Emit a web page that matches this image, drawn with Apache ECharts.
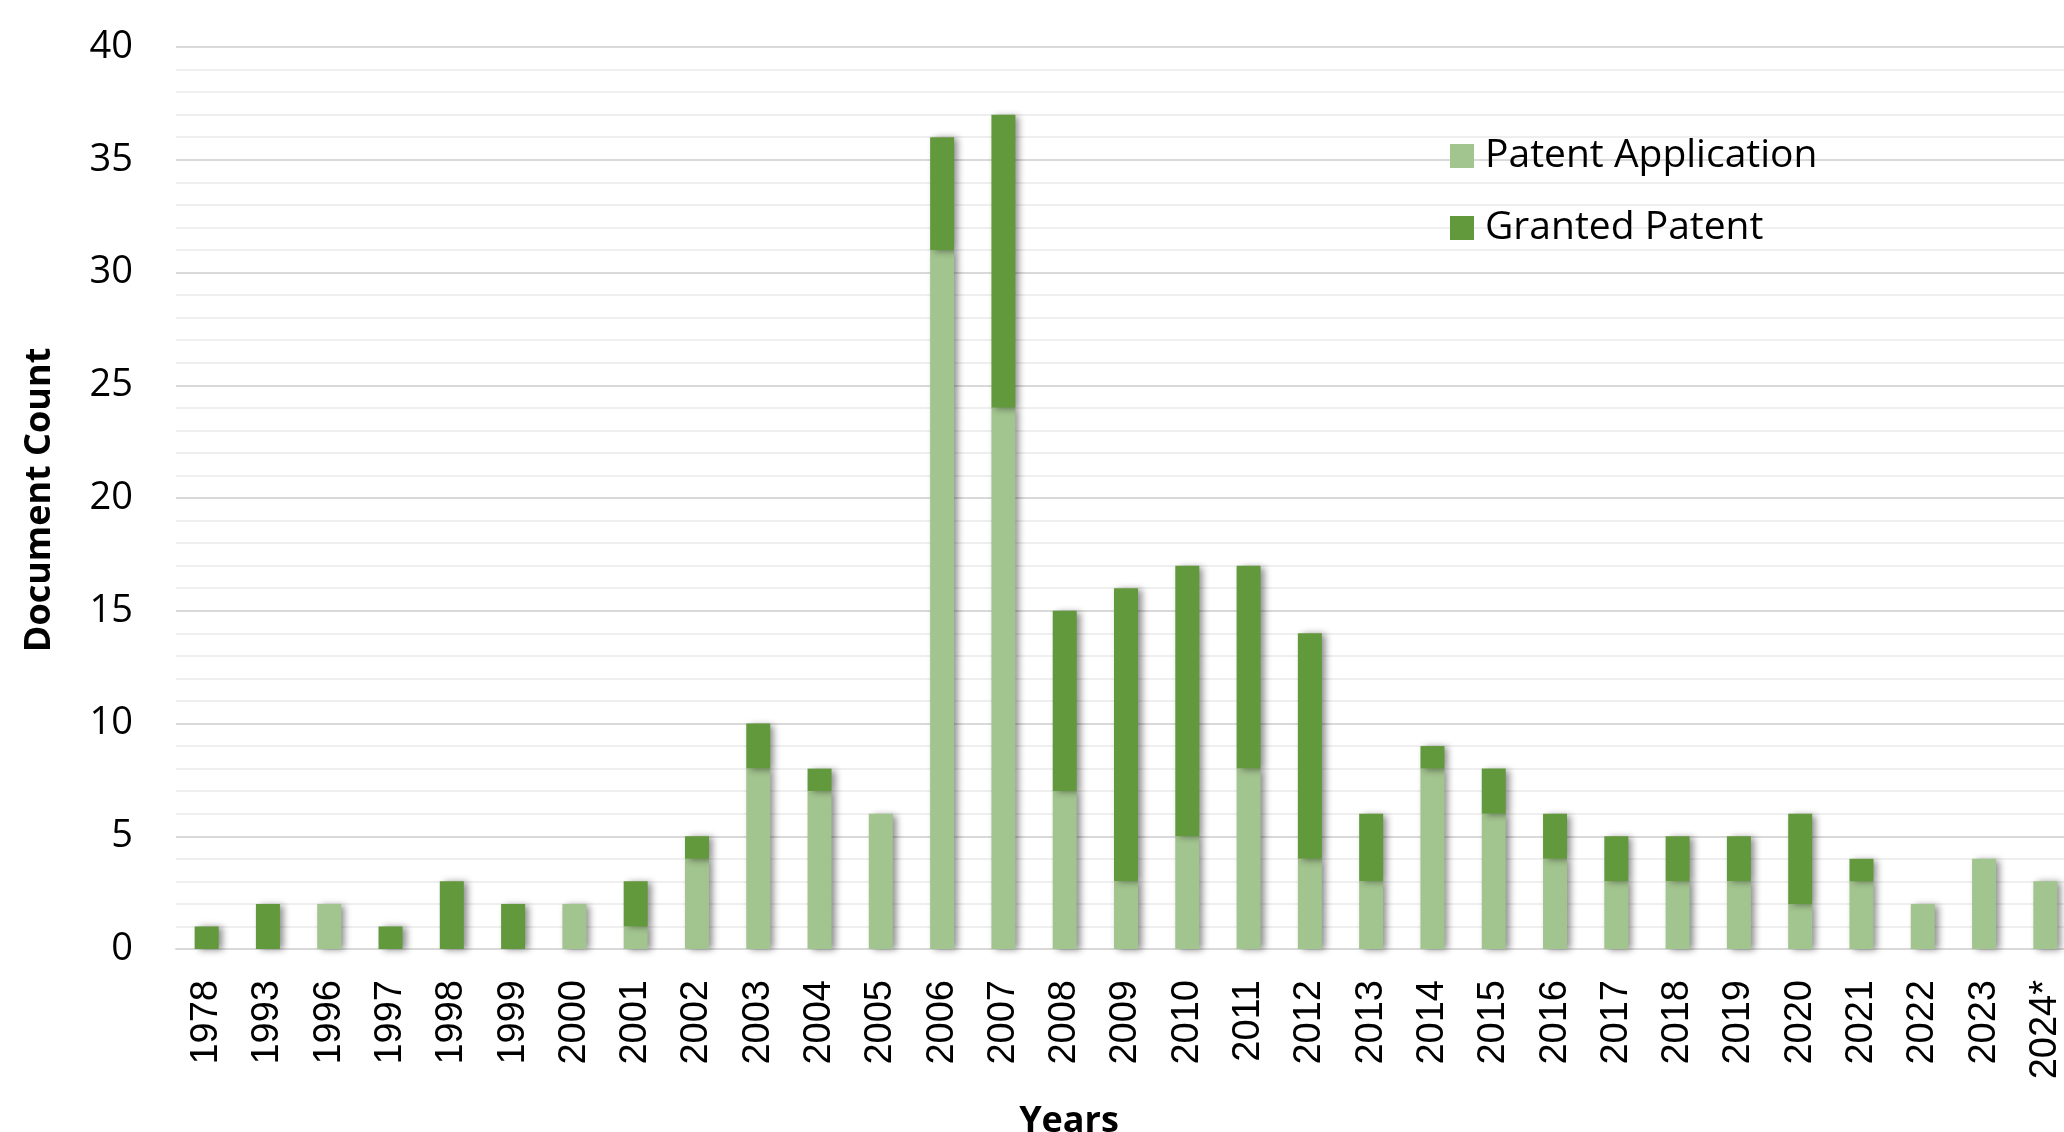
<!DOCTYPE html>
<html>
<head>
<meta charset="utf-8">
<script src="https://cdn.jsdelivr.net/npm/echarts@6/dist/echarts.min.js"></script>
<style>
html,body{margin:0;padding:0;background:#fff;}
#c{width:2064px;height:1132px;}
</style>
</head>
<body>
<div id="c"></div>
<script>
const years = ['1978','1993','1996','1997','1998','1999','2000','2001','2002','2003','2004','2005','2006','2007','2008','2009','2010','2011','2012','2013','2014','2015','2016','2017','2018','2019','2020','2021','2022','2023','2024*'];
const patentApplication = [0,0,2,0,0,0,2,1,4,8,7,6,31,24,7,3,5,8,4,3,8,6,4,3,3,3,2,3,2,4,3];
const grantedPatent     = [1,2,0,1,3,2,0,2,1,2,1,0,5,13,8,13,12,9,10,3,1,2,2,2,2,2,4,1,0,0,0];
const yTicks = [0,5,10,15,20,25,30,35,40];

const chart = echarts.init(document.getElementById('c'), null, {renderer:'canvas'});
const shadow = {shadowColor:'rgba(0,0,0,0.45)', shadowBlur:7, shadowOffsetX:4, shadowOffsetY:1};
chart.setOption({
  animation:false,
  backgroundColor:'#fff',
  grid:{left:176, top:47, width:1900, height:902, containLabel:false, outerBoundsMode:'none'},
  legend:{
    orient:'vertical', left:1445, top:131,
    itemWidth:24, itemHeight:24, itemGap:32,
    icon:'rect',
    textStyle:{fontFamily:'Open Sans', fontSize:39, color:'#000', lineHeight:40, padding:[0,0,0,6]},
    data:['Patent Application','Granted Patent']
  },
  xAxis:{
    type:'category', data:years,
    axisLine:{show:true, lineStyle:{color:'#D9D9D9', width:2}},
    axisTick:{show:false},
    axisLabel:{rotate:90, margin:31, fontFamily:'Liberation Sans', fontSize:38, color:'#000'}
  },
  yAxis:{
    type:'value', min:yTicks[0], max:yTicks[yTicks.length-1], interval:5,
    axisLine:{show:false}, axisTick:{show:false},
    axisLabel:{margin:43, fontFamily:'Open Sans', fontSize:38, color:'#000'},
    splitLine:{show:true, lineStyle:{color:'#D9D9D9', width:2}},
    minorTick:{show:false, splitNumber:5},
    minorSplitLine:{show:true, lineStyle:{color:'#EFEFEF', width:2}}
  },
  graphic:[
    {type:'text', x:40, y:500, rotation:Math.PI/2, style:{text:'Document Count', font:'bold 36px "Open Sans"', fill:'#000', align:'center', verticalAlign:'middle'}},
    {type:'text', x:1069, y:1122, style:{text:'Years', font:'bold 36px "Open Sans"', fill:'#000', align:'center', verticalAlign:'middle'}}
  ],
  series:[
    {name:'Patent Application', type:'bar', stack:'t', data:patentApplication, barWidth:24,
     itemStyle:Object.assign({color:'#A2C48E'}, shadow)},
    {name:'Granted Patent', type:'bar', stack:'t', data:grantedPatent, barWidth:24,
     itemStyle:Object.assign({color:'#63993D'}, shadow)}
  ]
});
</script>
</body>
</html>
